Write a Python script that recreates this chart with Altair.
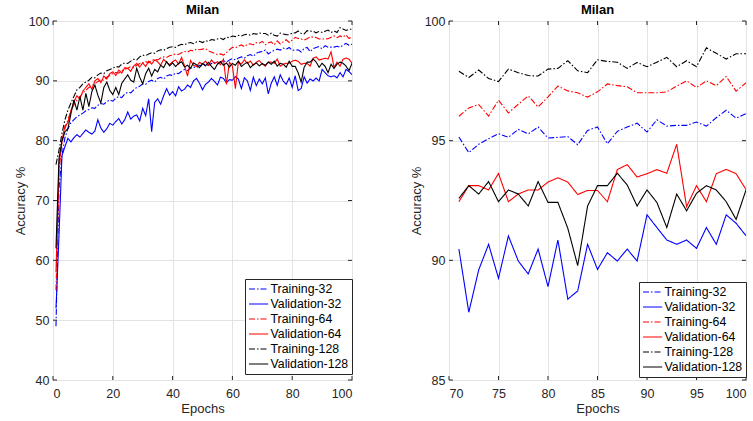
import altair as alt
import pandas as pd

# ---------------- data ----------------
epochs = list(range(1, 101))
series_names = ["Training-32", "Validation-32", "Training-64", "Validation-64", "Training-128", "Validation-128"]
series_colors = ["#0000ff", "#0000ff", "#ff0000", "#ff0000", "#000000", "#000000"]

train_32 = [49, 72, 77.5, 80.5, 82, 83, 83.5, 84, 84.3, 84.6,
            85, 85.2, 85.5, 85.4, 85.9, 86.2, 86.1, 86.5, 86.8, 86.6,
            87.1, 87.4, 87.2, 87.8, 88.1, 88, 88.5, 88.9, 89.1, 89.5,
            89.4, 89.9, 90.1, 89.8, 90.4, 90.6, 90.3, 90.8, 91, 90.9,
            91.3, 91.2, 91.6, 91.9, 91.7, 92.1, 92.3, 92.2, 92.6, 92.5,
            92.8, 92.6, 92.9, 93.1, 92.8, 93.2, 93.4, 93.1, 93.5, 93.7,
            93.5, 93.8, 94, 93.8, 94.2, 94.4, 94.1, 94.6, 94.8, 94.9,
            95.15, 94.5, 94.85, 95.08, 95.29, 95.14, 95.47, 95.28, 95.57, 95.11,
            95.14, 95.17, 94.83, 95.43, 95.57, 94.87, 95.39, 95.57, 95.73, 95.36,
            95.87, 95.61, 95.64, 95.64, 95.78, 95.61, 95.96, 96.27, 95.94, 96.13]

val_32 = [52, 64, 77.5, 79, 80.4, 79.8, 80.5, 81, 80.6, 81.2,
          81.8, 81.4, 81.1, 81.6, 83.5, 82.1, 81.4, 82, 82.9, 82.6,
          83.2, 83.7, 82.8, 83.5, 84.8, 83.6, 84.1, 84.3, 83.3, 85.4,
          84.2, 87, 81.5, 86.4, 87, 86.1, 87.5, 88.7, 87.6, 88.2,
          87.5, 89, 88.3, 88.6, 89.3, 88.9, 90, 90.4, 89.6, 88.5,
          89.4, 89.8, 90.4, 89.9, 89.3, 90.6, 90.4, 89.7, 90.2, 90.1,
          90.7, 90.3, 88.7, 90.5, 90, 88.4, 90.6, 89.2, 90.3, 89.5,
          90.47, 87.83, 89.6, 90.67, 89.25, 91.02, 89.97, 89.43, 90.47, 88.9,
          90.85, 88.38, 88.72, 90.67, 89.62, 90.32, 89.97, 90.47, 89.97, 91.9,
          91.37, 90.85, 90.67, 90.85, 90.5, 91.37, 90.67, 91.9, 91.55, 91.03]

train_64 = [55, 75, 79.5, 82, 83.5, 85, 86, 86.8, 87.3, 88,
            88.4, 88.9, 89.2, 89.5, 89.9, 90.2, 90.1, 90.6, 90.9, 91.2,
            91.4, 91.3, 91.7, 91.9, 92.1, 92.4, 92.2, 92.6, 92.9, 93,
            93.2, 93, 93.4, 93.6, 93.5, 93.8, 94, 93.9, 94.2, 94.3,
            94.5, 94.4, 94.7, 94.9, 94.8, 95.1, 95, 95.3, 95.2, 95.3,
            95.4, 95, 94.8, 94.6, 94.4, 94.5, 94.3, 94.7, 95.2, 95.6,
            95.5, 95.8, 96, 95.7, 96.1, 96.2, 96, 96.4, 96.3, 96.6,
            96.02, 96.37, 96.51, 96.03, 96.69, 96.16, 96.52, 96.87, 96.41, 96.83,
            97.28, 97.08, 97.0, 96.82, 97.04, 97.37, 97.30, 97.25, 97.0, 97.0,
            97.0, 97.04, 97.28, 97.5, 97.22, 97.5, 97.3, 97.68, 97.07, 97.42]

val_64 = [58, 76, 80, 82.5, 83, 85, 86.5, 87.5, 87, 88.3,
          88.9, 89.5, 88.6, 90, 90.4, 89.7, 90.8, 90.3, 91.2, 91.5,
          90.9, 91.8, 91.3, 92.2, 92.1, 91.6, 92.5, 92.9, 92.3, 93,
          92.4, 93.3, 92.8, 93.5, 93.2, 92.6, 93.6, 93.1, 92.7, 93.2,
          93.5, 92.8, 93.9, 92.5, 90.8, 93.4, 92.6, 92.4, 93.1, 92.8,
          93.3, 92.6, 93.5, 92.9, 93.2, 92.7, 93.6, 89.4, 93.1, 92.5,
          88.7, 93.2, 92.8, 93.5, 92.9, 93.3, 92.6, 93.1, 93.4, 92.8,
          92.45, 93.12, 93.12, 92.94, 93.63, 92.45, 92.77, 92.94, 92.94, 93.27,
          93.45, 93.27, 92.75, 92.92, 92.92, 92.45, 93.79, 94.0, 93.48, 93.62,
          93.79, 93.64, 94.85, 92.24, 93.12, 92.45, 93.62, 93.8, 93.62, 92.96]

train_128 = [76, 78.4, 81.2, 83.5, 85.1, 86.3, 87.4, 88.5, 88.9, 89.5,
             89.8, 90.1, 90.6, 90.5, 91, 91.3, 91.2, 91.7, 91.9, 92.1,
             92.4, 92.3, 92.8, 93, 92.9, 93.3, 93.6, 93.5, 94, 94.3,
             94.2, 94.5, 94.7, 94.6, 95, 95.2, 95.1, 95.4, 95.6, 95.7,
             95.6, 95.9, 96.1, 96, 96.3, 96.4, 96.2, 96.5, 96.6, 96.4,
             96.7, 96.6, 96.9, 96.8, 97, 97.1, 96.9, 97.3, 97.2, 97.5,
             97.4, 97.6, 97.5, 97.7, 97.8, 97.6, 97.9, 97.8, 98, 97.9,
             97.90, 97.64, 97.95, 97.6, 97.47, 97.99, 97.84, 97.72, 97.70, 97.99,
             98.02, 98.34, 97.92, 97.84, 98.38, 98.31, 98.28, 98.02, 98.27, 98.09,
             98.28, 98.48, 98.09, 98.34, 98.09, 98.88, 98.65, 98.41, 98.63, 98.63]

val_128 = [62, 77, 80, 81.5, 82, 84.5, 86.8, 85.1, 87.4, 85.1,
           87.9, 85.7, 88.2, 89.3, 87.6, 86.3, 88.9, 89.8, 88.4, 87.7,
           88.9, 87.7, 89.6, 90.3, 91, 90.1, 89.8, 92.1, 90.6, 89.5,
           91.2, 92.1, 90.8, 91.9, 91.5, 92.6, 92.2, 93.2, 92.5, 93,
           92.4, 92.9, 93.2, 92.3, 92.6, 92.1, 93, 92.7, 92.2, 92.9,
           92.5, 93.1, 92.4, 91.9, 92.8, 93.2, 92.6, 93, 92.3, 92.9,
           92.6, 93.3, 92.4, 92.8, 93.1, 92.2, 92.7, 93, 92.5, 92.9,
           92.59, 93.12, 92.77, 93.29, 92.45, 92.94, 92.77, 92.27, 93.29, 92.42,
           92.42, 91.34, 89.78, 92.27, 93.12, 93.12, 93.64, 93.15, 92.27, 92.94,
           92.42, 91.37, 92.77, 92.07, 92.8, 93.12, 92.94, 92.45, 91.71, 92.94]

left_x_ticks = [0, 20, 40, 60, 80, 100]
left_y_ticks = [40, 50, 60, 70, 80, 90, 100]
right_x_ticks = [70, 75, 80, 85, 90, 95, 100]
right_y_ticks = [85, 90, 95, 100]
right_start_epoch = 71

# ---------------- build tables ----------------
all_series = [train_32, val_32, train_64, val_64, train_128, val_128]
rows = []
for name, vals in zip(series_names, all_series):
    for e, v in zip(epochs, vals):
        rows.append({"epoch": e, "acc": v, "series": name})
df = pd.DataFrame(rows)
df_right = df[df["epoch"] >= right_start_epoch]

FONT = "Liberation Sans"
TXT = "#262626"
dashes = [[6, 2, 1.5, 2], [1, 0], [6, 2, 1.5, 2], [1, 0], [6, 2, 1.5, 2], [1, 0]]

PW_L, PW_R, PH = 299, 297, 359


def panel(data, xdom, ydom, xt, yt, pw, legend_y):
    leg = alt.Legend(title=None, orient="none", legendX=pw - 107, legendY=legend_y,
                     symbolType="M-1,0H2.2", symbolSize=144, symbolStrokeWidth=1.2,
                     labelFont=FONT, labelFontSize=12.3, labelColor="#000000",
                     fillColor="white", strokeColor="#262626", padding=3,
                     rowPadding=1, labelOffset=8.5, labelLimit=0)
    xs = alt.Scale(domain=xdom, nice=False, zero=False)
    ys = alt.Scale(domain=ydom, nice=False, zero=False)
    lines = alt.Chart(data).mark_line(strokeWidth=1.1, clip=True).encode(
        x=alt.X("epoch:Q", scale=xs, axis=alt.Axis(values=xt, title="Epochs", format="d")),
        y=alt.Y("acc:Q", scale=ys, axis=alt.Axis(values=yt, title="Accuracy %", format="d")),
        color=alt.Color("series:N", scale=alt.Scale(domain=series_names, range=series_colors), legend=leg),
        strokeDash=alt.StrokeDash("series:N", scale=alt.Scale(domain=series_names, range=dashes), legend=leg),
        order=alt.Order("epoch:Q"),
    )
    xt_df = pd.DataFrame({"epoch": xt})
    yt_df = pd.DataFrame({"acc": yt})
    tk = dict(color=TXT, strokeWidth=1)
    xb = alt.Chart(xt_df).mark_rule(**tk).encode(x=alt.X("epoch:Q", scale=xs), y=alt.value(PH), y2=alt.value(PH - 4))
    xtop = alt.Chart(xt_df).mark_rule(**tk).encode(x=alt.X("epoch:Q", scale=xs), y=alt.value(0), y2=alt.value(4))
    yl = alt.Chart(yt_df).mark_rule(**tk).encode(y=alt.Y("acc:Q", scale=ys), x=alt.value(0), x2=alt.value(4))
    yr = alt.Chart(yt_df).mark_rule(**tk).encode(y=alt.Y("acc:Q", scale=ys), x=alt.value(pw), x2=alt.value(pw - 4))
    return alt.layer(lines, xb, xtop, yl, yr).properties(
        width=pw, height=PH,
        title=alt.TitleParams("Milan", font=FONT, fontSize=13, fontWeight="bold", color="#000000", offset=-2),
    )


left = panel(df, [0, 100], [40, 100], left_x_ticks, left_y_ticks, PW_L, 258)
right = panel(df_right, [70, 100], [85, 100], right_x_ticks, right_y_ticks, PW_R, 261)

chart = alt.hconcat(left, right, spacing=56).resolve_legend(
    color="independent", strokeDash="independent"
).properties(
    padding={"left": 13, "top": 3, "right": 0, "bottom": 0},
    background="white",
).configure_view(
    stroke=TXT, strokeWidth=1
).configure_axis(
    labelFont=FONT, labelFontSize=12.5, labelColor=TXT,
    titleFont=FONT, titleFontSize=13, titleColor=TXT, titleFontWeight="normal",
    grid=True, gridColor="#e3e3e3", gridWidth=1,
    domain=False, ticks=False, tickSize=0,
).configure_axisX(
    labelPadding=7, titlePadding=3,
).configure_axisY(
    labelPadding=4, titlePadding=1,
)

chart.save("out.html", embed_options={"renderer": "svg", "actions": False})
